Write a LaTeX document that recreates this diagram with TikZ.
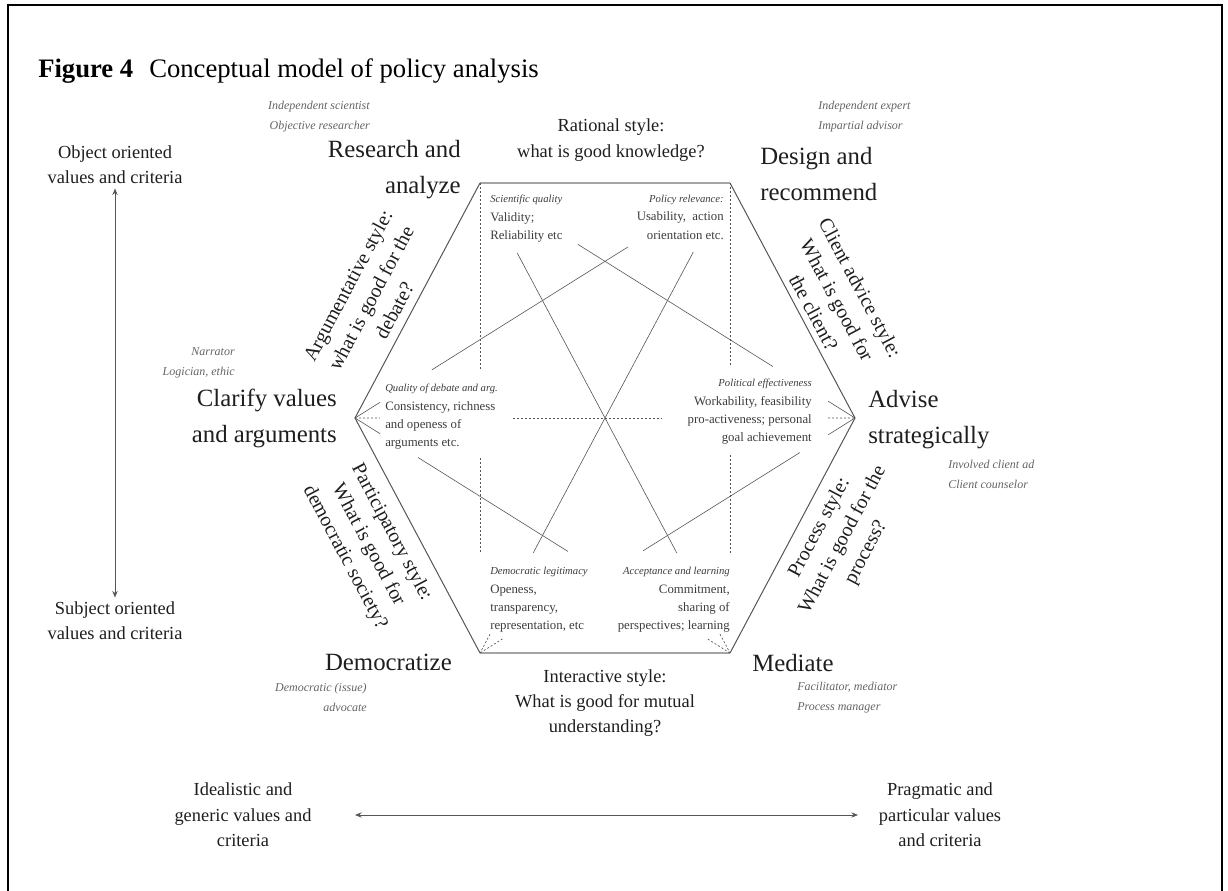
\documentclass[tikz,border=0pt]{standalone}
\usepackage{fontspec}
\setmainfont{Liberation Serif}
\usetikzlibrary{calc,arrows.meta}
\definecolor{ink}{RGB}{30,30,30}
\definecolor{rolegray}{RGB}{100,100,100}
\definecolor{critgray}{RGB}{60,60,60}
\definecolor{linegray}{RGB}{85,85,85}
\definecolor{rimgray}{RGB}{165,165,165}
\newcommand{\critit}[1]{{\fontsize{8}{13.8}\selectfont\itshape #1}}
\begin{document}
\begin{tikzpicture}[x=0.75pt,y=-0.75pt,
  big/.style={font=\fontsize{18.6}{27}\selectfont, text=ink, inner sep=0pt},
  stylet/.style={font=\fontsize{13.8}{19}\selectfont, text=ink, inner sep=0pt, align=center},
  rotstyle/.style={font=\fontsize{15}{19.8}\selectfont, text=ink, inner sep=0pt, align=center},
  role/.style={font=\fontsize{9}{15}\selectfont\itshape, text=rolegray, inner sep=0pt},
  critbox/.style={font=\fontsize{9.6}{13.8}\selectfont, text=critgray, inner sep=0pt},
  axislbl/.style={font=\fontsize{13.8}{19}\selectfont, text=ink, inner sep=0pt, align=center},
  sideln/.style={draw=linegray, line width=0.75pt},
  rimln/.style={draw=rimgray, line width=2.2pt},
  diagln/.style={draw=linegray, line width=0.45pt},
  dashln/.style={draw=linegray, line width=0.5pt, dash pattern=on 1.5pt off 1.5pt},
  axisarrow/.style={draw=ink!75, line width=0.7pt, {Stealth[length=5pt,width=4pt]}-{Stealth[length=5pt,width=4pt]}}
]
\path[use as bounding box] (0,0) rectangle (1228,891);
% frame
\draw[line width=1.6pt] (8,891) -- (8,5) -- (1222,5) -- (1222,891);

% title
\node[anchor=base west, inner sep=0pt, font=\fontsize{20}{22}\selectfont\bfseries] (fig) at (38,78) {Figure 4};
\node[anchor=base west, inner sep=0pt, font=\fontsize{20}{22}\selectfont] (ttl) at (149,78) {Conceptual model of policy analysis};

% hexagon vertices
\coordinate (TL) at (480,183);
\coordinate (TR) at (730,183);
\coordinate (R) at (855,418);
\coordinate (BR) at (730,653);
\coordinate (BL) at (480,653);
\coordinate (L) at (355,418);

% hexagon edges
\draw[rimln] (TL) -- (TR);
\draw[rimln] (BL) -- (BR);
\draw[sideln] (TR) -- (R) -- (BR);
\draw[sideln] (BL) -- (L) -- (TL);

% inner diagonals (interrupted by the criteria texts)
\draw[diagln] ($(TL)!0.261!(R)$) -- ($(TL)!0.781!(R)$);
\draw[diagln] ($(TL)!0.928!(R)$) -- (R);
\draw[diagln] ($(TR)!0.272!(L)$) -- ($(TR)!0.795!(L)$);
\draw[diagln] ($(TR)!0.933!(L)$) -- (L);
\draw[diagln] (R) -- ($(R)!0.072!(BL)$);
\draw[diagln] ($(R)!0.147!(BL)$) -- ($(R)!0.565!(BL)$);
\draw[dashln] ($(R)!0.94!(BL)$) -- (BL);
\draw[diagln] (L) -- ($(L)!0.067!(BR)$);
\draw[diagln] ($(L)!0.168!(BR)$) -- ($(L)!0.568!(BR)$);
\draw[dashln] ($(L)!0.941!(BR)$) -- (BR);
\draw[diagln] ($(TL)!0.149!(BR)$) -- ($(TL)!0.787!(BR)$);
\draw[dashln] ($(TL)!0.96!(BR)$) -- (BR);
\draw[diagln] ($(TR)!0.147!(BL)$) -- ($(TR)!0.787!(BL)$);
\draw[dashln] ($(TR)!0.96!(BL)$) -- (BL);
% dashed verticals and horizontal
\draw[dashln] (TL) -- ($(TL)!0.398!(BL)$);
\draw[dashln] ($(TL)!0.585!(BL)$) -- ($(TL)!0.787!(BL)$);
\draw[dashln] (TR) -- ($(TR)!0.387!(BR)$);
\draw[dashln] ($(TR)!0.579!(BR)$) -- ($(TR)!0.787!(BR)$);
\draw[dashln] (L) -- ($(L)!0.05!(R)$);
\draw[dashln] ($(L)!0.316!(R)$) -- ($(L)!0.614!(R)$);
\draw[dashln] ($(L)!0.946!(R)$) -- (R);

% criteria texts inside the hexagon
\node[critbox, align=left, anchor=west] (sci) at (490,219)
  {\critit{Scientific quality}\\Validity;\\Reliability etc};
\node[critbox, align=right, anchor=east] (pol) at (724,217)
  {\critit{Policy relevance:}\\Usability,\ \ action\\orientation etc.};
\node[critbox, align=left, anchor=west] (qual) at (385,417)
  {\critit{Quality of debate and arg.}\\Consistency, richness\\and openess of\\arguments etc.};
\node[critbox, align=right, anchor=east] (eff) at (812,412)
  {\critit{Political effectiveness}\\Workability, feasibility\\pro-activeness; personal\\goal achievement};
\node[critbox, align=left, anchor=west] (dem) at (490,600)
  {\critit{Democratic legitimacy}\\Openess,\\transparency,\\representation, etc};
\node[critbox, align=right, anchor=east] (acc) at (730,600)
  {\critit{Acceptance and learning}\\Commitment,\\sharing of\\perspectives; learning};

% role labels
\node[role, align=right, anchor=east] (r1) at (370,117) {Independent scientist\\Objective researcher};
\node[role, align=left, anchor=west] (r2) at (818,117) {Independent expert\\Impartial advisor};
\node[role, align=right, anchor=east] (r3) at (235,363) {Narrator\\Logician, ethic};
\node[role, align=left, anchor=west] (r4) at (948,474) {Involved client ad\\Client counselor};
\node[role, align=right, anchor=east] (r5) at (367,697) {Democratic (issue)\\advocate};
\node[role, align=left, anchor=west] (r6) at (797,698) {Facilitator, mediator\\Process manager};

% vertex labels
\node[big, align=right, anchor=east] (res) at (461,170) {Research and\\analyze};
\node[big, align=left, anchor=west] (des) at (760,174) {Design and\\recommend};
\node[big, align=right, anchor=east] (cla) at (337,418) {Clarify values\\and arguments};
\node[big, align=left, anchor=west] (adv) at (868,420) {Advise\\strategically};
\node[big, anchor=east] (demz) at (452,662) {Democratize};
\node[big, anchor=west] (med) at (752,663) {Mediate};

% style texts
\node[stylet] (rat) at (611,140) {Rational style:\\what is good knowledge?};
\node[stylet] (int) at (605,703) {Interactive style:\\What is good for mutual\\understanding?};
\node[rotstyle, rotate=62] (arg) at (371,298) {Argumentative style:\\what is good for the\\debate?};
\node[rotstyle, rotate=-62] (cli) at (837,300) {Client advice style:\\What is good for\\the client?};
\node[rotstyle, rotate=-62] (par) at (368,545) {Participatory style:\\What is good for\\democratic society?};
\node[rotstyle, rotate=62] (pro) at (843,540) {Process style:\\What is good for the\\process?};

% axes
\node[axislbl] (obj) at (115,165) {Object oriented\\values and criteria};
\node[axislbl] (sub) at (115,621) {Subject oriented\\values and criteria};
\draw[axisarrow] ([yshift=-3pt]obj.south) -- ([yshift=3pt]sub.north);
\node[axislbl] (ideal) at (243,815) {Idealistic and\\generic values and\\criteria};
\node[axislbl] (prag) at (940,815) {Pragmatic and\\particular values\\and criteria};
\coordinate (hl) at (355,815);
\coordinate (hr) at (858,815);
\draw[axisarrow] (hl) -- (hr);
\end{tikzpicture}
\end{document}
